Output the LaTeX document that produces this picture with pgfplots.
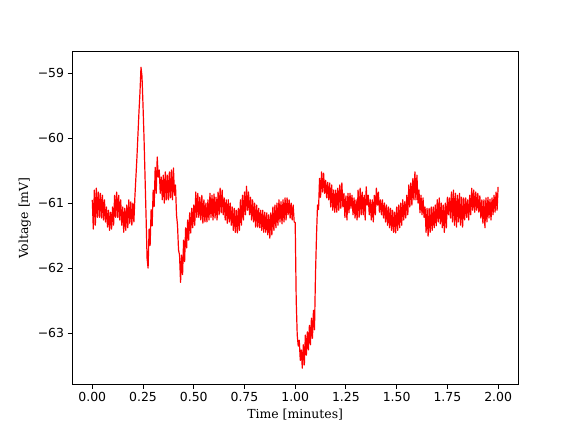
\documentclass[border=0pt]{standalone}
\usepackage{fontspec}
\usepackage{pgfplots}
\pgfplotsset{compat=1.18}
\newfontfamily\ticksfont{DejaVu Sans}
\newfontfamily\labelfont{DejaVu Serif}

\begin{document}
\begin{tikzpicture}
\begin{axis}[
    at={(0,0)}, anchor=south west,
    scale only axis,
    width=446.4bp, height=332.6bp,
    xmin=-0.1, xmax=2.1,
    ymin=-63.791, ymax=-58.674,
    axis line style={line width=1bp},
    tick style={line width=1bp, black},
    major tick length=4.4bp,
    tick align=outside,
    xtick pos=left, ytick pos=left,
    xtick={0,0.25,...,2},
    xticklabels={0.00,0.25,0.50,0.75,1.00,1.25,1.50,1.75,2.00},
    ytick={-63,-62,-61,-60,-59},
    yticklabels={−63,−62,−61,−60,−59},
    ticklabel style={font=\ticksfont\fontsize{12.5}{15}\selectfont},
    label style={font=\labelfont\fontsize{12.5}{15}\selectfont},
    xlabel={Time [minutes]},
    ylabel={Voltage [mV]},
]
% voltage trace (minutes, mV), upper and lower edge of the noise band
\addplot[red, line width=1.2bp, line join=round, mark=none] coordinates {
(0.000,-60.95) (0.005,-61.40) (0.010,-60.80) (0.015,-61.34)
(0.020,-60.77) (0.025,-61.22) (0.030,-60.83) (0.035,-61.22)
(0.040,-60.85) (0.045,-61.23) (0.050,-60.88) (0.055,-61.26)
(0.060,-60.95) (0.065,-61.29) (0.070,-61.06) (0.075,-61.37)
(0.080,-61.11) (0.085,-61.42) (0.090,-61.14) (0.095,-61.40)
(0.100,-61.06) (0.105,-61.34) (0.110,-60.88) (0.115,-61.22)
(0.120,-60.83) (0.125,-61.22) (0.130,-60.88) (0.135,-61.26)
(0.140,-60.95) (0.145,-61.34) (0.150,-61.06) (0.155,-61.45)
(0.160,-61.08) (0.165,-61.42) (0.170,-61.03) (0.175,-61.38)
(0.180,-60.95) (0.185,-61.31) (0.190,-60.98) (0.195,-61.34)
(0.200,-61.00) (0.205,-61.29) (0.210,-60.90) (0.215,-60.60)
(0.220,-60.30) (0.225,-59.95) (0.230,-59.60) (0.235,-59.30)
(0.240,-58.91) (0.245,-59.05) (0.250,-59.50) (0.255,-60.00)
(0.260,-60.60) (0.265,-61.20) (0.270,-61.85) (0.275,-62.00)
(0.280,-61.40) (0.285,-61.65) (0.290,-61.10) (0.295,-61.35)
(0.300,-60.80) (0.305,-61.05) (0.310,-60.45) (0.315,-60.85)
(0.320,-60.29) (0.325,-60.60) (0.330,-60.49) (0.335,-60.85)
(0.340,-60.60) (0.345,-60.95) (0.350,-60.57) (0.355,-61.00)
(0.360,-60.52) (0.365,-60.95) (0.370,-60.57) (0.375,-60.95)
(0.380,-60.52) (0.385,-60.92) (0.390,-60.49) (0.395,-60.95)
(0.400,-60.46) (0.405,-60.88) (0.410,-60.72) (0.415,-61.18)
(0.420,-61.34) (0.425,-61.72) (0.430,-61.80) (0.435,-62.22)
(0.440,-61.80) (0.445,-62.10) (0.450,-61.57) (0.455,-61.90)
(0.460,-61.38) (0.465,-61.69) (0.470,-61.26) (0.475,-61.57)
(0.480,-61.15) (0.485,-61.46) (0.490,-61.08) (0.495,-61.38)
(0.500,-61.03) (0.505,-61.34) (0.510,-60.83) (0.515,-61.22)
(0.520,-60.85) (0.525,-61.22) (0.530,-60.91) (0.535,-61.26)
(0.540,-60.88) (0.545,-61.31) (0.550,-60.95) (0.555,-61.29)
(0.560,-61.00) (0.565,-61.29) (0.570,-60.95) (0.575,-61.26)
(0.580,-60.85) (0.585,-61.22) (0.590,-60.88) (0.595,-61.26)
(0.600,-60.86) (0.605,-61.23) (0.610,-60.91) (0.615,-61.26)
(0.620,-60.83) (0.625,-61.18) (0.630,-60.77) (0.635,-61.15)
(0.640,-60.80) (0.645,-61.18) (0.650,-60.92) (0.655,-61.26)
(0.660,-60.95) (0.665,-61.31) (0.670,-60.95) (0.675,-61.29)
(0.680,-61.00) (0.685,-61.34) (0.690,-61.06) (0.695,-61.42)
(0.700,-61.08) (0.705,-61.45) (0.710,-61.11) (0.715,-61.46)
(0.720,-61.08) (0.725,-61.42) (0.730,-60.95) (0.735,-61.34)
(0.740,-60.88) (0.745,-61.26) (0.750,-60.83) (0.755,-61.18)
(0.760,-60.74) (0.765,-61.11) (0.770,-60.83) (0.775,-61.18)
(0.780,-60.91) (0.785,-61.26) (0.790,-60.95) (0.795,-61.29)
(0.800,-61.00) (0.805,-61.37) (0.810,-61.03) (0.815,-61.37)
(0.820,-61.08) (0.825,-61.38) (0.830,-61.11) (0.835,-61.42)
(0.840,-61.11) (0.845,-61.45) (0.850,-61.14) (0.855,-61.45)
(0.860,-61.15) (0.865,-61.49) (0.870,-61.18) (0.875,-61.54)
(0.880,-61.15) (0.885,-61.49) (0.890,-61.06) (0.895,-61.42)
(0.900,-61.03) (0.905,-61.38) (0.910,-61.00) (0.915,-61.34)
(0.920,-60.95) (0.925,-61.29) (0.930,-60.98) (0.935,-61.32)
(0.940,-60.95) (0.945,-61.29) (0.950,-60.92) (0.955,-61.26)
(0.960,-60.92) (0.965,-61.18) (0.970,-60.95) (0.975,-61.23)
(0.980,-61.00) (0.985,-61.26) (0.990,-61.03) (0.995,-61.29)
(1.000,-61.30) (1.005,-62.50) (1.010,-63.03) (1.015,-63.20)
(1.020,-63.11) (1.025,-63.42) (1.030,-63.26) (1.035,-63.54)
(1.040,-63.18) (1.045,-63.49) (1.050,-63.03) (1.055,-63.34)
(1.060,-62.98) (1.065,-63.26) (1.070,-62.88) (1.075,-63.18)
(1.080,-62.77) (1.085,-63.08) (1.090,-62.65) (1.095,-62.95)
(1.100,-62.10) (1.105,-61.50) (1.110,-61.03) (1.115,-61.10)
(1.120,-60.62) (1.125,-60.91) (1.130,-60.52) (1.135,-60.83)
(1.140,-60.54) (1.145,-60.85) (1.150,-60.65) (1.155,-60.92)
(1.160,-60.68) (1.165,-60.95) (1.170,-60.69) (1.175,-61.06)
(1.180,-60.72) (1.185,-61.11) (1.190,-60.80) (1.195,-61.14)
(1.200,-60.80) (1.205,-61.14) (1.210,-60.77) (1.215,-61.11)
(1.220,-60.72) (1.225,-61.08) (1.230,-60.69) (1.235,-61.06)
(1.240,-60.85) (1.245,-61.22) (1.250,-60.89) (1.255,-61.26)
(1.260,-60.85) (1.265,-61.15) (1.270,-60.85) (1.275,-61.08)
(1.280,-60.88) (1.285,-61.18) (1.290,-60.92) (1.295,-61.23)
(1.300,-60.95) (1.305,-61.26) (1.310,-60.80) (1.315,-61.22)
(1.320,-60.77) (1.325,-61.18) (1.330,-60.83) (1.335,-61.18)
(1.340,-60.88) (1.345,-61.26) (1.350,-60.75) (1.355,-61.03)
(1.360,-60.88) (1.365,-61.18) (1.370,-60.95) (1.375,-61.26)
(1.380,-60.95) (1.385,-61.29) (1.390,-60.88) (1.395,-61.18)
(1.400,-60.77) (1.405,-61.03) (1.410,-60.83) (1.415,-61.14)
(1.420,-60.95) (1.425,-61.18) (1.430,-60.95) (1.435,-61.23)
(1.440,-61.00) (1.445,-61.29) (1.450,-61.03) (1.455,-61.34)
(1.460,-61.06) (1.465,-61.38) (1.470,-61.08) (1.475,-61.42)
(1.480,-61.11) (1.485,-61.45) (1.490,-61.14) (1.495,-61.46)
(1.500,-61.06) (1.505,-61.42) (1.510,-61.03) (1.515,-61.38)
(1.520,-61.00) (1.525,-61.34) (1.530,-60.95) (1.535,-61.26)
(1.540,-60.98) (1.545,-61.23) (1.550,-60.88) (1.555,-61.18)
(1.560,-60.72) (1.565,-61.06) (1.570,-60.69) (1.575,-61.03)
(1.580,-60.62) (1.585,-60.95) (1.590,-60.52) (1.595,-60.95)
(1.600,-60.57) (1.605,-61.00) (1.610,-60.80) (1.615,-61.15)
(1.620,-60.88) (1.625,-61.18) (1.630,-60.92) (1.635,-61.22)
(1.640,-61.06) (1.645,-61.45) (1.650,-61.08) (1.655,-61.51)
(1.660,-61.08) (1.665,-61.45) (1.670,-61.06) (1.675,-61.42)
(1.680,-61.06) (1.685,-61.38) (1.690,-61.03) (1.695,-61.35)
(1.700,-60.95) (1.705,-61.29) (1.710,-60.92) (1.715,-61.32)
(1.720,-61.00) (1.725,-61.38) (1.730,-61.03) (1.735,-61.45)
(1.740,-61.00) (1.745,-61.38) (1.750,-60.91) (1.755,-61.18)
(1.760,-60.92) (1.765,-61.23) (1.770,-60.83) (1.775,-61.29)
(1.780,-60.80) (1.785,-61.34) (1.790,-60.85) (1.795,-61.37)
(1.800,-60.88) (1.805,-61.29) (1.810,-60.85) (1.815,-61.34)
(1.820,-60.91) (1.825,-61.37) (1.830,-60.92) (1.835,-61.26)
(1.840,-60.92) (1.845,-61.22) (1.850,-60.95) (1.855,-61.26)
(1.860,-60.88) (1.865,-61.18) (1.870,-60.77) (1.875,-61.11)
(1.880,-60.80) (1.885,-61.14) (1.890,-60.83) (1.895,-61.11)
(1.900,-60.85) (1.905,-61.14) (1.910,-60.89) (1.915,-61.23)
(1.920,-60.95) (1.925,-61.31) (1.930,-60.95) (1.935,-61.38)
(1.940,-60.92) (1.945,-61.29) (1.950,-60.91) (1.955,-61.23)
(1.960,-60.94) (1.965,-61.26) (1.970,-60.92) (1.975,-61.18)
(1.980,-60.88) (1.985,-61.14) (1.990,-60.83) (1.995,-61.11)
(2.000,-60.75)
};
\end{axis}
\pgfresetboundingbox
\path[use as bounding box] (-72bp,-47.5bp) rectangle (504bp,384.5bp);
\end{tikzpicture}
\end{document}
